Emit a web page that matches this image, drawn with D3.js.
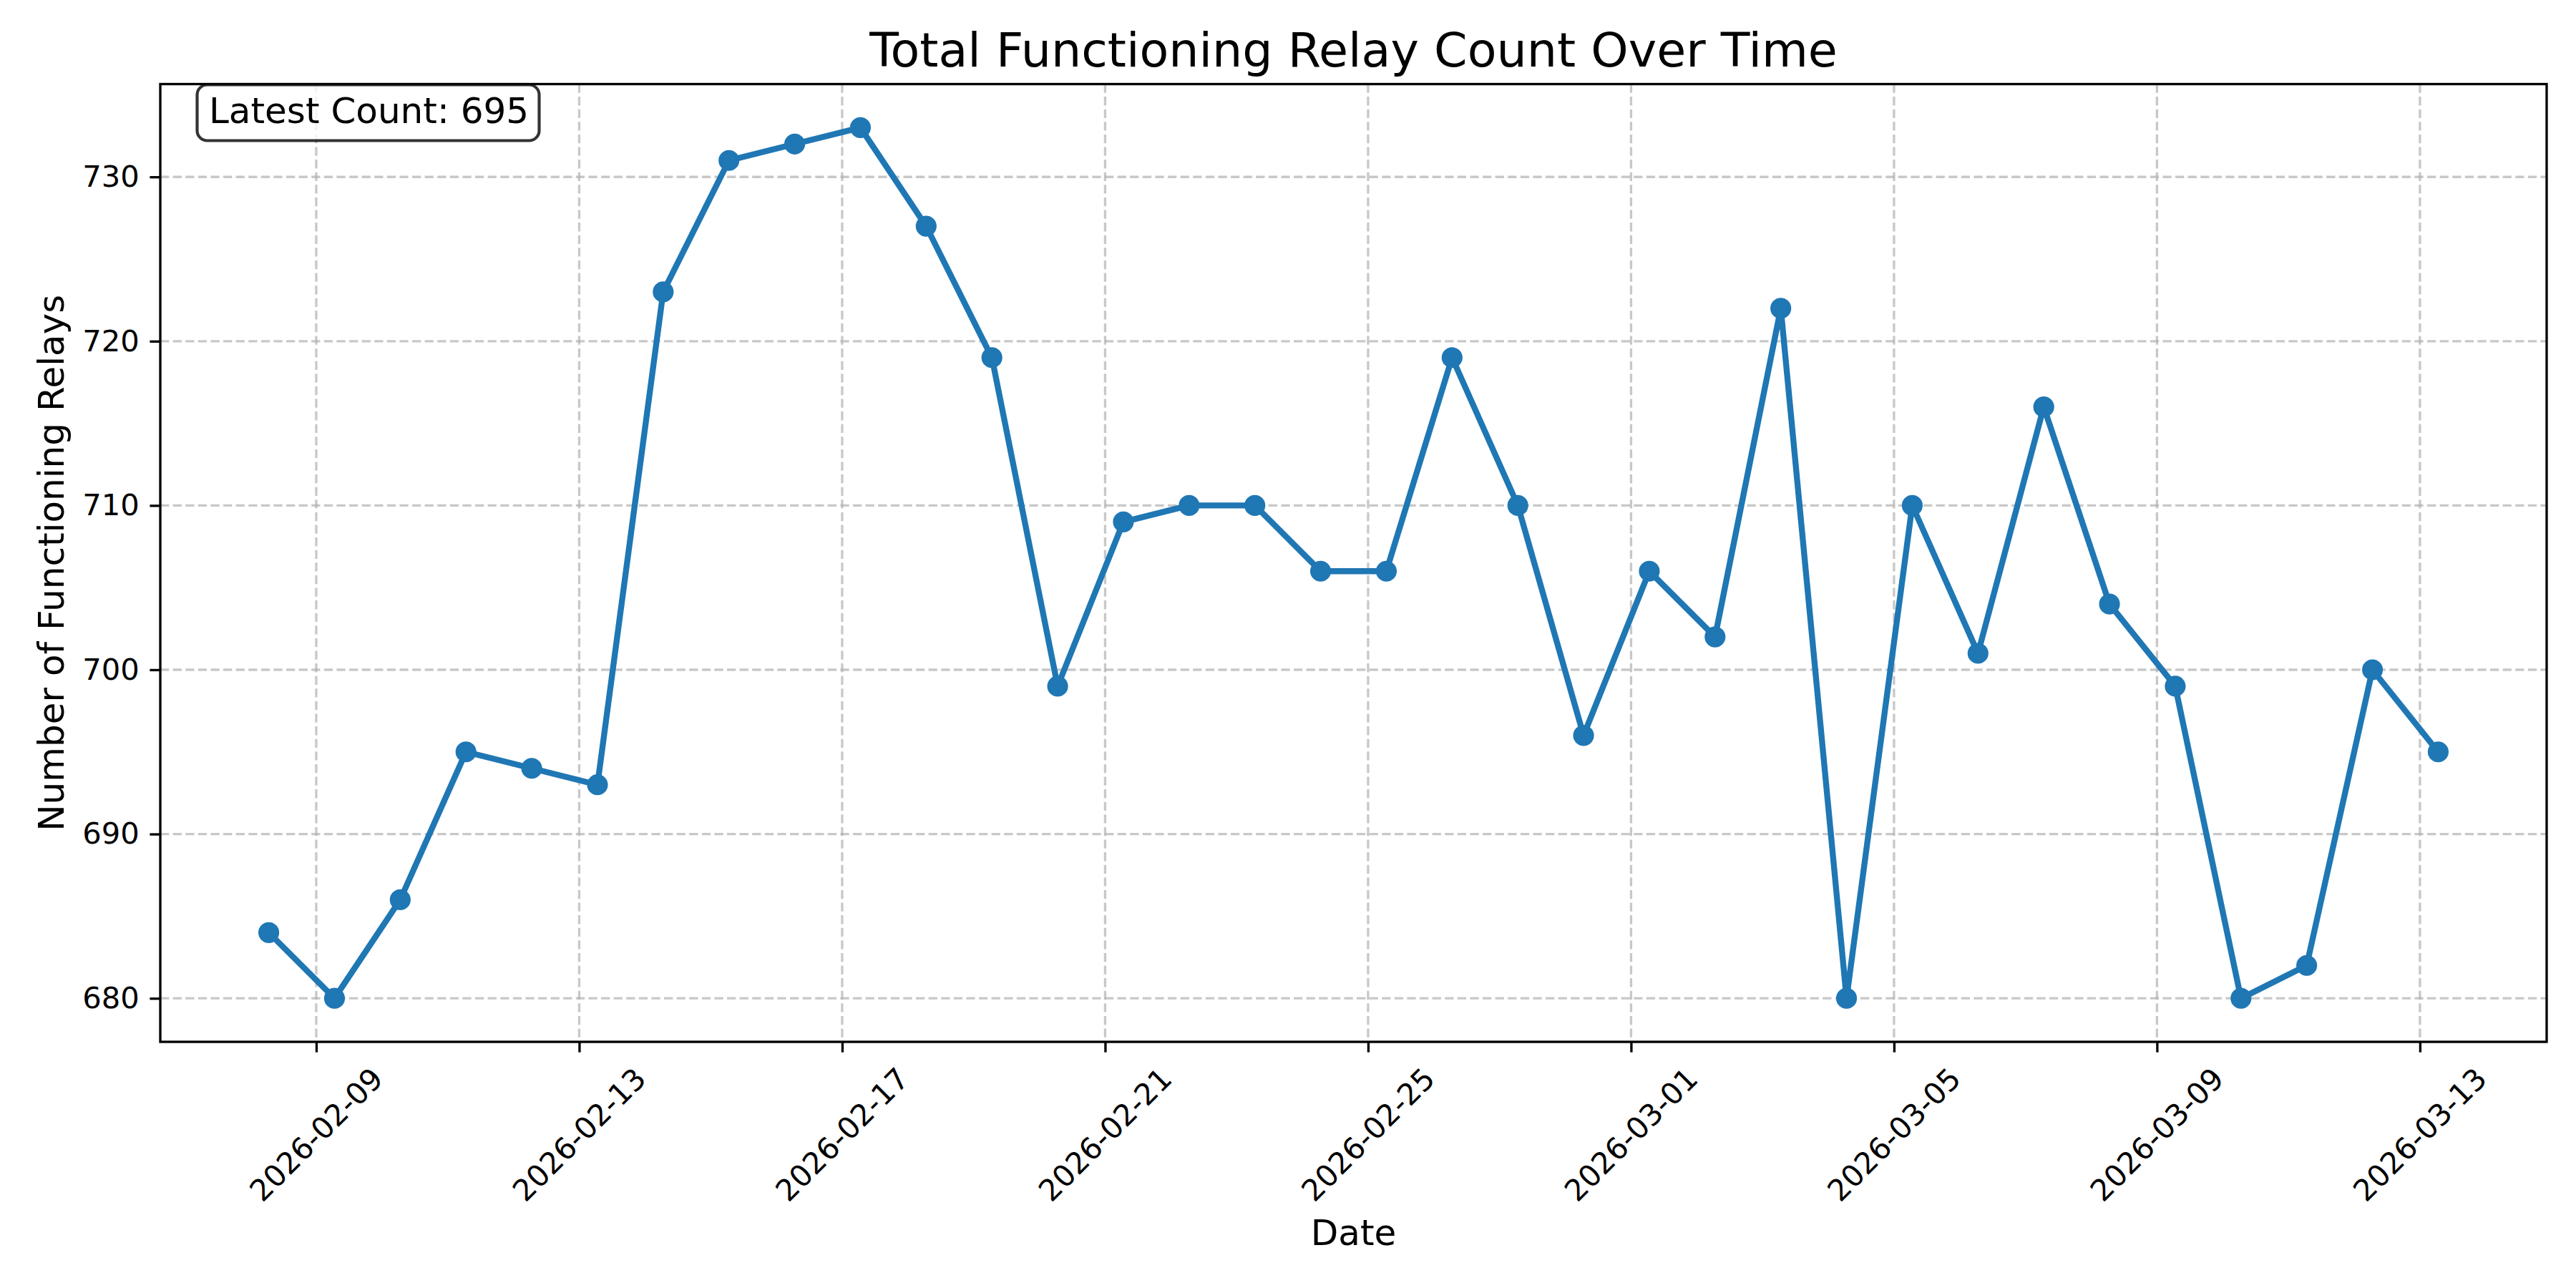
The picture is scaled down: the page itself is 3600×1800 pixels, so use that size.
<!DOCTYPE html>
<html>
<head>
<meta charset="utf-8">
<script src="https://cdn.jsdelivr.net/npm/d3@7"></script>
<style>
  body { margin: 0; background: #fff; }
  text { font-family: "DejaVu Sans", sans-serif; fill: #000; }
</style>
</head>
<body>
<div id="relay-chart"></div>
<script>
// daily readings, taken around 06:40 each morning
const dates = [
  "2026-02-08", "2026-02-09", "2026-02-10", "2026-02-11", "2026-02-12", "2026-02-13",
  "2026-02-14", "2026-02-15", "2026-02-16", "2026-02-17", "2026-02-18", "2026-02-19",
  "2026-02-20", "2026-02-21", "2026-02-22", "2026-02-23", "2026-02-24", "2026-02-25",
  "2026-02-26", "2026-02-27", "2026-02-28", "2026-03-01", "2026-03-02", "2026-03-03",
  "2026-03-04", "2026-03-05", "2026-03-06", "2026-03-07", "2026-03-08", "2026-03-09",
  "2026-03-10", "2026-03-11", "2026-03-12", "2026-03-13"
];
const counts = [
  684, 680, 686, 695, 694, 693,
  723, 731, 732, 733, 727, 719,
  699, 709, 710, 710, 706, 706,
  719, 710, 696, 706, 702, 722,
  680, 710, 701, 716, 704, 699,
  680, 682, 700, 695
];
const xTickLabels = [
  "2026-02-09", "2026-02-13", "2026-02-17", "2026-02-21", "2026-02-25",
  "2026-03-01", "2026-03-05", "2026-03-09", "2026-03-13"
];
const yTicks = [680, 690, 700, 710, 720, 730];

const titleText = "Total Functioning Relay Count Over Time";
const xLabelText = "Date";
const yLabelText = "Number of Functioning Relays";

function drawRelayChart(chart_id = "#relay-chart") {
  const svgWidth = 3600;
  const svgHeight = 1800;
  const margin = { top: 117.5, right: 41, bottom: 344, left: 224 };
  const width = svgWidth - margin.left - margin.right;
  const height = svgHeight - margin.top - margin.bottom;

  const parseTime = d3.utcParse("%Y-%m-%dT%H:%M");
  const parseDay = d3.utcParse("%Y-%m-%d");
  const data = dates.map((d, i) => ({ time: parseTime(d + "T06:40"), value: counts[i] }));

  const svg = d3.select(chart_id)
    .append("svg")
    .attr("width", svgWidth)
    .attr("height", svgHeight);

  const g = svg.append("g")
    .attr("transform", "translate(" + margin.left + "," + margin.top + ")");

  // 5% padding on both axes, like matplotlib
  const tExt = d3.extent(data, d => d.time);
  const tPad = (tExt[1] - tExt[0]) * 0.05;
  const xScale = d3.scaleUtc()
    .domain([new Date(+tExt[0] - tPad), new Date(+tExt[1] + tPad)])
    .range([0, width]);

  const vExt = d3.extent(counts);
  const vPad = (vExt[1] - vExt[0]) * 0.05;
  const yScale = d3.scaleLinear()
    .domain([vExt[0] - vPad, vExt[1] + vPad])
    .range([height, 0]);

  const xTicks = xTickLabels.map(parseDay);

  // grid
  const gridStyle = sel => sel
    .attr("stroke", "#b0b0b0")
    .attr("stroke-opacity", 0.7)
    .attr("stroke-width", 3.33)
    .attr("stroke-dasharray", "12.3,5.3");

  g.append("g").selectAll("line")
    .data(xTicks)
    .join("line")
    .attr("x1", d => xScale(d)).attr("x2", d => xScale(d))
    .attr("y1", 0).attr("y2", height)
    .call(gridStyle);

  g.append("g").selectAll("line")
    .data(yTicks)
    .join("line")
    .attr("x1", 0).attr("x2", width)
    .attr("y1", d => yScale(d)).attr("y2", d => yScale(d))
    .call(gridStyle);

  // line + markers
  const line = d3.line()
    .x(d => xScale(d.time))
    .y(d => yScale(d.value));

  g.append("path")
    .datum(data)
    .attr("fill", "none")
    .attr("stroke", "#1f77b4")
    .attr("stroke-width", 8.33)
    .attr("stroke-linejoin", "round")
    .attr("stroke-linecap", "square")
    .attr("d", line);

  g.append("g").selectAll("circle")
    .data(data)
    .join("circle")
    .attr("cx", d => xScale(d.time))
    .attr("cy", d => yScale(d.value))
    .attr("r", 12.5)
    .attr("fill", "#1f77b4")
    .attr("stroke", "#1f77b4")
    .attr("stroke-width", 4.17);

  // x-axis
  const xAxis = g.append("g")
    .attr("transform", "translate(0," + height + ")")
    .call(d3.axisBottom(xScale).tickValues(xTicks).tickSize(14.6).tickFormat(""));
  xAxis.select(".domain").remove();
  xAxis.selectAll(".tick line").attr("stroke", "#000").attr("stroke-width", 3.33);

  g.append("g").selectAll("text")
    .data(xTicks)
    .join("text")
    .attr("transform", (d, i) => "translate(" + xScale(d) + "," + (height + 129.5) + ") rotate(-45)")
    .attr("text-anchor", "middle")
    .attr("dy", "0.35em")
    .style("font-size", "41.67px")
    .text((d, i) => xTickLabels[i]);

  // y-axis
  const yAxis = g.append("g")
    .call(d3.axisLeft(yScale).tickValues(yTicks).tickSize(14.6).tickPadding(14.6));
  yAxis.select(".domain").remove();
  yAxis.selectAll(".tick line").attr("stroke", "#000").attr("stroke-width", 3.33);
  yAxis.selectAll(".tick text")
    .style("font-size", "41.67px")
    .style("font-family", "DejaVu Sans")
    .attr("fill", "#000");

  // frame
  g.append("rect")
    .attr("width", width)
    .attr("height", height)
    .attr("fill", "none")
    .attr("stroke", "#000")
    .attr("stroke-width", 3.33);

  // latest count box
  g.append("rect")
    .attr("x", 275.5 - margin.left)
    .attr("y", 118.5 - margin.top)
    .attr("width", 478)
    .attr("height", 78)
    .attr("rx", 14)
    .attr("fill", "#fff")
    .attr("fill-opacity", 0.8)
    .attr("stroke", "#000")
    .attr("stroke-opacity", 0.8)
    .attr("stroke-width", 4.17);

  g.append("text")
    .attr("x", 292 - margin.left)
    .attr("y", 171.5 - margin.top)
    .style("font-size", "50px")
    .text("Latest Count: " + counts[counts.length - 1]);

  // title + axis labels
  svg.append("text")
    .attr("x", margin.left + width / 2)
    .attr("y", 92.5)
    .attr("text-anchor", "middle")
    .style("font-size", "66.67px")
    .text(titleText);

  svg.append("text")
    .attr("x", margin.left + width / 2)
    .attr("y", 1740)
    .attr("text-anchor", "middle")
    .style("font-size", "50px")
    .text(xLabelText);

  svg.append("text")
    .attr("transform", "translate(89," + (margin.top + height / 2) + ") rotate(-90)")
    .attr("text-anchor", "middle")
    .style("font-size", "50px")
    .text(yLabelText);
}

drawRelayChart();
</script>
</body>
</html>
